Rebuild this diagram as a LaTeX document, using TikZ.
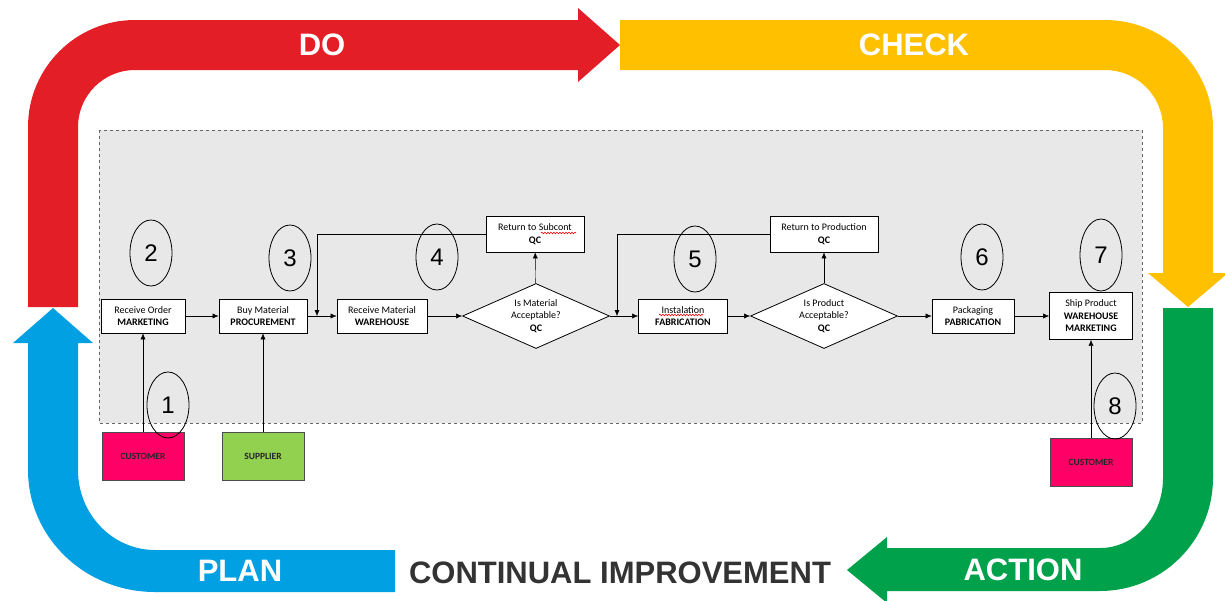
\documentclass[tikz,border=0pt]{standalone}
\usepackage{fontspec}
\newfontfamily\bandfont{Liberation Sans}
\newfontfamily\boxfont{Carlito}
\usetikzlibrary{shapes.geometric,arrows.meta,decorations.pathmorphing}
\definecolor{doRed}{HTML}{E41E26}
\definecolor{checkYellow}{HTML}{FFC000}
\definecolor{actGreen}{HTML}{00A14B}
\definecolor{planBlue}{HTML}{00A0E3}
\definecolor{custPink}{HTML}{FF0066}
\definecolor{suppGreen}{HTML}{92D050}

\begin{document}
\begin{tikzpicture}[x=1pt, y=-1pt, >={Latex[length=6pt,width=5pt]},
    stepbox/.style={draw, fill=white, line width=0.8pt, minimum width=84, minimum height=34, inner sep=1pt, align=center, font=\boxfont\fontsize{10}{12.5}\selectfont},
    check/.style={diamond, draw, fill=white, line width=0.8pt, aspect=2.26, minimum width=147, minimum height=65, inner sep=0pt, align=center, font=\boxfont\fontsize{10}{12.5}\selectfont},
    party/.style={draw=black!70, minimum width=82, minimum height=48, inner sep=1pt, font=\boxfont\bfseries\fontsize{9.5}{9.5}\selectfont, text=black!85},
    numring/.style={ellipse, draw, line width=0.8pt, minimum width=42, minimum height=66, inner sep=0pt, font=\bandfont\fontsize{24}{24}\selectfont},
    bandlabel/.style={text=white, inner sep=0pt, font=\bandfont\bfseries\fontsize{31}{31}\selectfont},
    spell/.style={draw=red, line width=0.6pt, decorate, decoration={snake, amplitude=0.8pt, segment length=3pt}}]
                \useasboundingbox (0,0) rectangle (1225,600);

                % PDCA bands
                \fill[doRed] (28,307) -- (28,127) arc[start angle=180, end angle=270, radius=107] -- (578,20) -- (578,8) -- (620,45) -- (578,82) -- (578,70) -- (135,70) arc[start angle=270, end angle=180, radius=57] -- (78,307) -- cycle;
                \fill[checkYellow] (620,20) -- (1105,20) arc[start angle=270, end angle=360, radius=108] -- (1213,273) -- (1228,273) -- (1188,307) -- (1148,273) -- (1163,273) -- (1163,128) arc[start angle=0, end angle=-90, radius=58] -- (620,70) -- cycle;
                \fill[actGreen] (1163,308) -- (1213,308) -- (1213,478) arc[start angle=0, end angle=90, radius=113] -- (887,591) -- (887,603) -- (847,570) -- (887,537) -- (887,548) -- (1100,548) arc[start angle=90, end angle=0, x radius=63, y radius=70] -- cycle;
                \fill[planBlue] (395,550) -- (155,550) arc[start angle=90, end angle=180, x radius=77, y radius=80] -- (78,343) -- (93,343) -- (53,308) -- (13,343) -- (28,343) -- (28,470) arc[start angle=180, end angle=90, x radius=127, y radius=122] -- (395,592) -- cycle;

                \node[bandlabel] (do) at (322,45) {DO};
                \node[bandlabel] (check) at (914,45) {CHECK};
                \node[bandlabel] (plan) at (240,571) {PLAN};
                \node[bandlabel] (action) at (1023,570) {ACTION};
                \node[inner sep=0pt, text=black!80, font=\bandfont\bfseries\fontsize{31}{31}\selectfont] (ci) at (620,573) {CONTINUAL IMPROVEMENT};

                % process panel
                \draw[dashed, draw=black!60, fill=black!9] (99,130) rectangle (1142,423);

                % Nodes
                \node[stepbox] (order) at (143,316) {Receive Order\\\textbf{MARKETING}};
                \node[stepbox, minimum width=88] (buy) at (263,316) {Buy Material\\\textbf{PROCUREMENT}};
                \node[stepbox, minimum width=90] (recv) at (382,316) {Receive Material\\\textbf{WAREHOUSE}};
                \node[check] (mat) at (536,316) {Is Material\\Acceptable?\\\textbf{QC}};
                \node[stepbox, minimum width=98, minimum height=36] (subcont) at (535,234) {Return to Subcont\\\textbf{QC}};
                \node[stepbox, minimum width=89] (inst) at (683,316) {Instalation\\\textbf{FABRICATION}};
                \node[check] (prod) at (824,316) {Is Product\\Acceptable?\\\textbf{QC}};
                \node[stepbox, minimum width=108, minimum height=36] (retprod) at (824,234) {Return to Production\\\textbf{QC}};
                \node[stepbox, minimum width=82] (pack) at (973,316) {Packaging\\\textbf{PABRICATION}};
                \node[stepbox, minimum width=83, minimum height=47] (ship) at (1091,316) {Ship Product\\\textbf{WAREHOUSE}\\\textbf{MARKETING}};

                \node[party, fill=custPink] (cust1) at (143,456) {CUSTOMER};
                \node[party, fill=suppGreen] (supp) at (263,456) {SUPPLIER};
                \node[party, fill=custPink] (cust2) at (1091,462) {CUSTOMER};

                \coordinate (back1) at (317,316);
                \coordinate (back2) at (617,316);

                \draw[->] (order) -- (buy);
                \draw[->] (buy) -- (recv);
                \draw[->] (recv) -- (mat);
                \draw[->] (mat) -- (subcont);
                \draw[->] (mat) -- (inst);
                \draw[->] (inst) -- (prod);
                \draw[->] (prod) -- (retprod);
                \draw[->] (prod) -- (pack);
                \draw[->] (pack) -- (ship);
                \draw[->] (cust1) -- (order);
                \draw[->] (supp) -- (buy);
                \draw[->] (cust2) -- (ship);
                \draw[->] (subcont.west) -| (back1);
                \draw[->] (retprod.west) -| (back2);

                % spelling marks
                \draw[spell] (541,233) -- (576,233);
                \draw[spell] (659,315) -- (703,315);

                % step numbers
                \node[numring] (n1) at (168,405) {1};
                \node[numring] (n2) at (151,253) {2};
                \node[numring] (n3) at (290,258) {3};
                \node[numring] (n4) at (437,257) {4};
                \node[numring] (n5) at (695,259) {5};
                \node[numring] (n6) at (982,257) {6};
                \node[numring, minimum height=72] (n7) at (1101,255) {7};
                \node[numring] (n8) at (1115,406) {8};

            \end{tikzpicture}
\end{document}
